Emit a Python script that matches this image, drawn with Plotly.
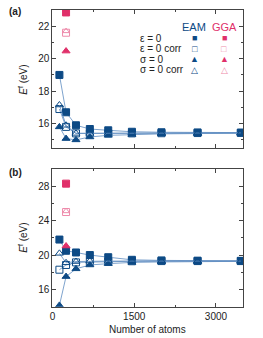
import plotly.graph_objects as go

atoms = [128, 250, 432, 686, 1024, 1458, 2000, 2662, 3456]
a_eps = [19.0, 16.7, 15.9, 15.67, 15.59, 15.5, 15.47, 15.46, 15.45]
a_eps_corr = [16.9, 15.8, 15.4, 15.4, 15.4, 15.4, 15.41, 15.42, 15.43]
a_sig = [15.8, 15.08, 15.0, 15.18, 15.28, 15.33, 15.37, 15.39, 15.41]
a_sig_corr = [17.15, 15.9, 15.4, 15.4, 15.4, 15.41, 15.42, 15.43, 15.43]

b_eps = [21.8, 20.5, 20.3, 20.0, 19.75, 19.45, 19.38, 19.35, 19.33]
b_eps_corr = [18.3, 18.85, 19.15, 19.2, 19.25, 19.28, 19.3, 19.3, 19.3]
b_sig = [14.15, 17.5, 18.4, 18.85, 19.0, 19.15, 19.2, 19.25, 19.27]
b_sig_corr = [20.2, 19.1, 19.25, 19.3, 19.3, 19.3, 19.3, 19.3, 19.3]

gga_atoms = [250]
a_gga = {"eps": [22.85], "eps_corr": [21.6], "sig": [20.47], "sig_corr": [21.7]}
b_gga = {"eps": [28.3], "eps_corr": [25.0], "sig": [21.05], "sig_corr": [25.1]}

EAM = "#0d4a85"
LINE = "#5d8cc0"
GGA = "#e0306a"
GGA_L = "#ee8aaa"
FONT = "Liberation Sans"

fig = go.Figure()

def add_panel(xa, ya, eps, eps_c, sig, sig_c, gga):
    specs = [
        (eps, "square", 7, EAM),
        (eps_c, "square-open", 7, EAM),
        (sig, "triangle-up", 7, EAM),
        (sig_c, "triangle-up-open", 7, EAM),
    ]
    for vals, sym, sz, col in specs:
        fig.add_trace(go.Scatter(
            x=atoms, y=vals, xaxis=xa, yaxis=ya, mode="lines+markers",
            line=dict(color=LINE, width=0.8),
            marker=dict(symbol=sym, size=sz, color=col, line=dict(color=col, width=1)),
            showlegend=False))
    gspecs = [
        (gga["eps"], "square", 7, GGA),
        (gga["eps_corr"], "square-open", 7, GGA_L),
        (gga["sig_corr"], "triangle-up-open", 6, GGA_L),
        (gga["sig"], "triangle-up", 7, GGA),
    ]
    for vals, sym, sz, col in gspecs:
        fig.add_trace(go.Scatter(
            x=gga_atoms, y=vals, xaxis=xa, yaxis=ya, mode="markers",
            marker=dict(symbol=sym, size=sz, color=col, line=dict(color=col, width=1)),
            showlegend=False))

add_panel("x", "y", a_eps, a_eps_corr, a_sig, a_sig_corr, a_gga)
add_panel("x2", "y2", b_eps, b_eps_corr, b_sig, b_sig_corr, b_gga)

W, H = 263, 338
axis_common = dict(
    showgrid=False, zeroline=False, showline=True, linecolor="#444", linewidth=1,
    mirror="allticks", ticks="inside", ticklen=4, tickcolor="#444", tickwidth=1,
    tickfont=dict(family=FONT, size=10, color="#222"),
)
xdom = [50 / W, 243 / W]
fig.update_layout(
    width=W, height=H, margin=dict(l=0, r=0, t=0, b=0),
    paper_bgcolor="white", plot_bgcolor="white",
    font=dict(family=FONT, size=10, color="#222"),
    xaxis=dict(domain=xdom, anchor="y", range=[0, 3500], dtick=1500, showticklabels=False,
               minor=dict(dtick=750, ticks="inside", ticklen=2, tickcolor="#444"), **axis_common),
    yaxis=dict(domain=[(H - 148) / H, (H - 10) / H], anchor="x", range=[14.5, 23], dtick=2,
               minor=dict(dtick=1, ticks="inside", ticklen=2, tickcolor="#444"), **axis_common),
    xaxis2=dict(domain=xdom, anchor="y2", range=[0, 3500], dtick=1500,
                minor=dict(dtick=750, ticks="inside", ticklen=2, tickcolor="#444"), **axis_common),
    yaxis2=dict(domain=[(H - 306.7) / H, (H - 169) / H], anchor="x2", range=[14, 30], dtick=4,
                minor=dict(dtick=2, ticks="inside", ticklen=2, tickcolor="#444"), **axis_common),
)

def px(x, y, text, size=10, color="#222", xanchor="center", yanchor="middle", angle=0, bold=False):
    fig.add_annotation(x=x / W, y=1 - y / H, xref="paper", yref="paper",
                       text=("<b>%s</b>" % text) if bold else text,
                       showarrow=False, xanchor=xanchor, yanchor=yanchor, textangle=angle,
                       font=dict(family=FONT, size=size, color=color))

px(4, 11, "(a)", size=10, xanchor="left", bold=True)
px(4, 172, "(b)", size=10, xanchor="left", bold=True)
px(20, 80, "<i>E</i><sup>f</sup> (eV)", angle=-90)
px(20, 238, "<i>E</i><sup>f</sup> (eV)", angle=-90)
px(146.5, 329, "Number of atoms")

# legend
px(193, 27, "EAM", size=11, color=EAM)
px(224, 27, "GGA", size=11, color=GGA)
rows = [("ε = 0", "■", "■"), ("ε = 0 corr", "□", "□"), ("σ = 0", "▲", "▲"), ("σ = 0 corr", "△", "△")]
ys = [38, 49, 59.5, 70]
for (lab, s1, s2), yy in zip(rows, ys):
    px(137, yy, lab, xanchor="left")
    px(194, yy, s1, size=9, color=EAM)
    px(224, yy, s2, size=9, color=GGA if s2 in ("■", "▲") else GGA_L)

fig.write_html("out.html", config={"displayModeBar": False},
               post_script="document.body.style.margin='0px';document.body.style.overflow='hidden';")
